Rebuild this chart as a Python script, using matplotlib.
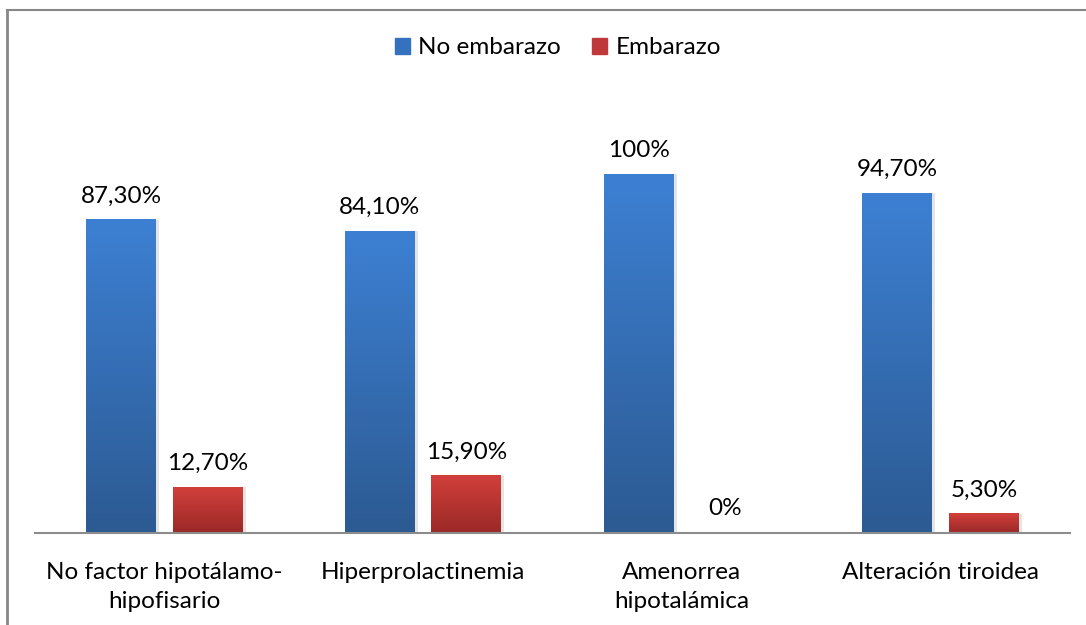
import matplotlib.pyplot as plt
import matplotlib.colors as mcolors
import numpy as np
from matplotlib.patches import Rectangle

categories = ['No factor hipotálamo-\nhipofisario', 'Hiperprolactinemia',
              'Amenorrea\nhipotalámica', 'Alteración tiroidea']
no_embarazo = [87.3, 84.1, 100.0, 94.7]
embarazo = [12.7, 15.9, 0.0, 5.3]
no_emb_labels = ['87,30%', '84,10%', '100%', '94,70%']
emb_labels = ['12,70%', '15,90%', '0%', '5,30%']

plt.rcParams['font.family'] = ['Lato', 'DejaVu Sans']
FS = 17.5

fig = plt.figure(figsize=(10.86, 6.25), dpi=100)
ax = fig.add_axes([35 / 1086, 92 / 625, 1035 / 1086, 441 / 625])

x = np.arange(len(categories))
width = 0.27
off = 0.167

blue_cmap = mcolors.LinearSegmentedColormap.from_list('b', ['#2c5a92', '#3d80d3'])
red_cmap = mcolors.LinearSegmentedColormap.from_list('r', ['#9a2927', '#d23f3b'])


def gradient_bars(xs, vals, cmap, label):
    bars = ax.bar(xs, vals, width, color='none', label=label, zorder=2)
    for b in bars:
        bx, by = b.get_x(), b.get_y()
        bw, bh = b.get_width(), b.get_height()
        if bh <= 0:
            continue
        # soft shadow to the right
        ax.add_patch(Rectangle((bx + 0.012, by), bw, bh, color='#000000',
                               alpha=0.10, lw=0, zorder=1))
        grad = np.linspace(0, 1, 256).reshape(-1, 1)
        ax.imshow(grad, cmap=cmap, origin='lower', aspect='auto',
                  extent=(bx, bx + bw, by, by + bh), zorder=2)
    return bars


gradient_bars(x - off, no_embarazo, blue_cmap, 'No embarazo')
gradient_bars(x + off, embarazo, red_cmap, 'Embarazo')

for xi, v, t in zip(x - off, no_embarazo, no_emb_labels):
    ax.text(xi, v + 3.8, t, ha='center', va='bottom', fontsize=FS)
for xi, v, t in zip(x + off, embarazo, emb_labels):
    ax.text(xi, v + 3.8, t, ha='center', va='bottom', fontsize=FS)

ax.set_xlim(-0.5, len(categories) - 0.5)
ax.set_ylim(0, 123)
ax.set_xticks(x)
ax.set_xticklabels(categories, fontsize=FS, linespacing=1.45)
ax.tick_params(axis='x', length=0, pad=21)
ax.set_yticks([])
for s in ['top', 'left', 'right']:
    ax.spines[s].set_visible(False)
ax.spines['bottom'].set_color('#8c8c8c')
ax.spines['bottom'].set_linewidth(1.5)

# legend with plain square handles
h1 = Rectangle((0, 0), 1, 1, color='#3471be')
h2 = Rectangle((0, 0), 1, 1, color='#c0393a')
fig.legend([h1, h2], ['No embarazo', 'Embarazo'], loc='center',
           bbox_to_anchor=(558 / 1086, 1 - 48 / 625), ncol=2, frameon=False,
           fontsize=FS, handlelength=0.6, handleheight=0.6, handletextpad=0.35,
           columnspacing=1.3)

# chart frame (left and top edges)
fig.add_artist(plt.Line2D([7 / 1086, 7 / 1086], [0, 1 - 10 / 625],
                          transform=fig.transFigure, color='#878787', lw=2))
fig.add_artist(plt.Line2D([7 / 1086, 1], [1 - 10 / 625, 1 - 10 / 625],
                          transform=fig.transFigure, color='#878787', lw=1.5))

fig.savefig('out.png', dpi=100)
